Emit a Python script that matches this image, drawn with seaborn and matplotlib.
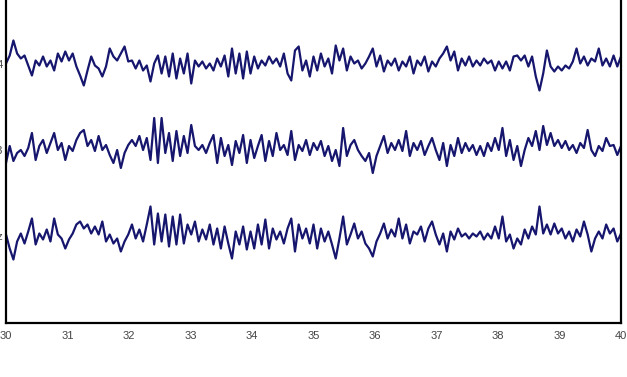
import numpy as np
import pandas as pd
import matplotlib
matplotlib.use("Agg")
import matplotlib.pyplot as plt
import seaborn as sns

# ---- data (deviations in screen pixels, positive = up) ----
channels = ["C4", "C3", "Cz"]          # top to bottom
channel_pos = [3, 2, 1]                # y position of each channel baseline
t_start, t_end = 30.0, 40.0
x_ticks = [30, 31, 32, 33, 34, 35, 36, 37, 38, 39, 40]
px_per_unit = 86.5                     # pixel spacing between channel baselines

c4_px = [0, 8, 23, 10, 5, 8, -2, -12, 3, -2, 7, -3, 3, -7, 10, 2, 12, 3, 10, -3,
         -12, -22, -7, 7, -2, -5, -13, -3, 15, 7, 3, 10, 17, 2, 3, -5, 3, -7, -2, -18,
         0, 8, -10, 7, -13, 10, -15, 5, -10, 10, -20, 3, -3, 2, -5, 0, -7, 5, -3, 8,
         -13, 15, -10, 10, -15, 12, -10, 7, -5, 3, -2, 7, 0, 5, -3, 10, -10, -17, 13, 17,
         -7, 3, -13, 7, -7, 10, -3, 5, -10, 18, 3, 15, -7, 7, 0, 3, -5, 0, 7, 15,
         -3, 8, -8, 3, -2, 5, -7, 2, -3, 7, -10, 3, -2, 7, -8, 2, -3, 5, 10, 17,
         3, 12, -7, 5, -2, 7, -3, 3, -2, 5, 0, 3, -7, 2, -5, 2, -7, 7, 8, 3,
         8, -3, 7, -13, -27, -10, 13, -3, -8, -3, -7, -2, -5, 2, 15, 0, 7, -2, 5, 2,
         15, -2, 5, -3, 8, -3, 7]

c3_px = [-13, 4, -11, -3, 0, -6, 2, 17, -10, 4, 10, -3, 7, 17, 0, 7, -10, 4, -1, 10,
         17, 20, 4, 10, -1, 14, 0, 5, -5, -13, 0, -18, -3, 5, 10, 4, 14, 0, 12, -10,
         32, -13, 32, -3, 17, -11, 19, -6, 14, -3, 25, 4, 0, 5, -3, 7, 15, -13, 12, -6,
         5, -15, 9, -3, 15, -13, 10, -8, 4, 15, -11, 9, -6, 17, 0, 5, -5, 19, -10, 5,
         -1, 10, -5, 7, 0, 9, -6, 4, -11, 0, -16, 22, -6, 5, 10, 0, -6, -11, -3, -23,
         -6, 4, 14, -3, 7, 0, 10, -1, 19, -6, 7, 0, 9, -5, 4, 12, 0, -10, 7, -16,
         5, -6, 12, -3, 7, -1, 5, -5, 4, -6, 7, -1, 12, 0, 22, -6, 10, -10, 4, -16,
         0, 12, 4, 19, 0, 24, 5, 17, 4, 10, 2, 9, 0, 5, -3, 7, 2, 20, 0, -6,
         4, -1, 12, 4, 5, -5, 4]

cz_px = [2, -12, -23, -5, 3, -7, 5, 18, -8, 3, -3, 7, -5, 18, 2, -2, -12, -3, 3, 12,
         15, 8, 12, 3, 10, 2, 15, -5, 2, -7, -2, -15, -5, 2, 12, -2, 7, -5, 12, 30,
         -8, 23, -5, 22, -10, 20, -8, 22, -7, 12, 2, 15, -5, 7, -3, 12, -8, 8, -12, 10,
         -7, -22, 5, -8, 10, -13, 5, -12, 12, -8, 17, -12, 8, -3, 5, -7, 8, 18, -15, 12,
         -2, 8, -7, 12, -12, 8, -5, 5, -8, -22, -2, 20, -8, 2, 13, -2, 5, -7, -12, -20,
         -5, 3, 13, -2, 7, 0, 18, -2, 12, -7, 5, 2, 10, -5, 8, 15, 2, -8, 3, -15,
         5, -3, 8, 0, 3, -2, 3, 0, 5, -3, 3, -2, 10, -2, 20, -5, 2, -12, -2, -8,
         7, -2, 10, 2, 30, 3, 12, 2, 13, 3, 8, -2, 5, -5, 7, 0, 15, 2, -15, -2,
         5, -2, 12, 3, 8, -5, 3]

# ---- build long table ----
frames = []
for name, pos, vals in zip(channels, channel_pos, [c4_px, c3_px, cz_px]):
    vals = np.asarray(vals, dtype=float)
    t = np.linspace(t_start, t_end, len(vals))
    frames.append(pd.DataFrame({"time": t,
                                "value": pos + vals / px_per_unit,
                                "channel": name}))
df = pd.concat(frames, ignore_index=True)

# ---- plot ----
sns.set_style("white")
plt.rcParams["font.family"] = ["Liberation Sans", "DejaVu Sans"]

W, H = 627, 377
fig = plt.figure(figsize=(W / 100, H / 100), dpi=100)
ax_bottom = 54 / H
ax_height = (4 * px_per_unit) / H
ax = fig.add_axes([6 / W, ax_bottom, 615 / W, ax_height])

line_color = "#16166e"
sns.lineplot(data=df, x="time", y="value", hue="channel",
             palette={c: line_color for c in channels},
             estimator=None, sort=False, legend=False, linewidth=1.6, ax=ax)

ax.set_xlim(t_start, t_end)
ax.set_ylim(0, 4)
ax.set_xticks(x_ticks)
ax.set_xticklabels([str(v) for v in x_ticks])
ax.set_yticks(channel_pos)
ax.set_yticklabels(channels)
ax.set_xlabel("")
ax.set_ylabel("")

for s in ax.spines.values():
    s.set_visible(True)
    s.set_color("black")
    s.set_linewidth(1.6)

ax.tick_params(axis="both", direction="in", length=3, width=0.8,
               labelsize=8, labelcolor="#444444", colors="#444444")
ax.tick_params(axis="x", pad=6)
ax.tick_params(axis="y", pad=2)

fig.savefig("out.png", dpi=100)
